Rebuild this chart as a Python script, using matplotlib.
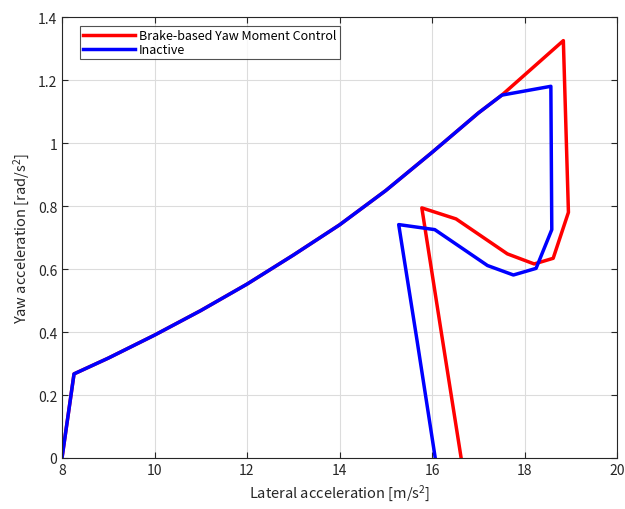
import numpy as np
import matplotlib
matplotlib.use("Agg")
import matplotlib.pyplot as plt

plt.rcParams['font.family'] = ['Noto Sans CJK JP', 'DejaVu Sans']
plt.rcParams['mathtext.default'] = 'regular'

# shared ramp: both runs follow the same path until the controller kicks in
ramp_x = [8.0, 8.26, 9.0, 10.0, 11.0, 12.0, 13.0, 14.0, 15.0, 16.0, 17.0, 17.51]
ramp_y = [0.0, 0.267, 0.317, 0.39, 0.468, 0.552, 0.644, 0.74, 0.849, 0.97, 1.095, 1.152]

# brake-based yaw moment control branch
ctrl_x = [18.84, 18.95, 18.62, 18.21, 17.63, 16.52, 15.78, 16.2, 16.63]
ctrl_y = [1.325, 0.78, 0.634, 0.616, 0.648, 0.759, 0.794, 0.40, 0.0]

# inactive branch
inact_x = [18.57, 18.59, 18.25, 17.76, 17.2, 16.06, 15.28, 15.68, 16.07]
inact_y = [1.18, 0.725, 0.602, 0.581, 0.611, 0.725, 0.741, 0.37, 0.0]

fig = plt.figure(figsize=(6.25, 5.1), dpi=100)
ax = fig.add_axes([0.0992, 0.1, 0.888, 0.8647])

ax.plot(ramp_x + ctrl_x, ramp_y + ctrl_y, color='#ff0000', lw=2.5,
        label='Brake-based Yaw Moment Control')
ax.plot(ramp_x + inact_x, ramp_y + inact_y, color='#0000ff', lw=2.5,
        label='Inactive')

ax.set_xlim(8, 20)
ax.set_ylim(0, 1.4)
ax.set_xticks(np.arange(8, 21, 2))
ax.set_yticks(np.arange(0, 1.41, 0.2))
ax.set_yticklabels(['0', '0.2', '0.4', '0.6', '0.8', '1', '1.2', '1.4'])
ax.grid(True, color='#dcdcdc', lw=0.8)
ax.set_axisbelow(True)
ax.tick_params(direction='in', top=True, right=True, labelsize=10,
               colors='#262626', length=4)
for s in ax.spines.values():
    s.set_color('#262626')
    s.set_linewidth(0.8)

ax.set_xlabel('Lateral acceleration [m/s$^2$]', fontsize=10.5, color='#262626')
ax.set_ylabel('Yaw acceleration [rad/s$^2$]', fontsize=10.5, color='#262626')

leg = ax.legend(loc='upper left', bbox_to_anchor=(0.032, 0.98), fontsize=9,
                frameon=True, fancybox=False, edgecolor='#262626',
                handlelength=4.2, borderpad=0.25, labelspacing=0.1,
                handletextpad=0.3, borderaxespad=0)
leg.get_frame().set_linewidth(0.8)

fig.savefig('out.png', dpi=100)
